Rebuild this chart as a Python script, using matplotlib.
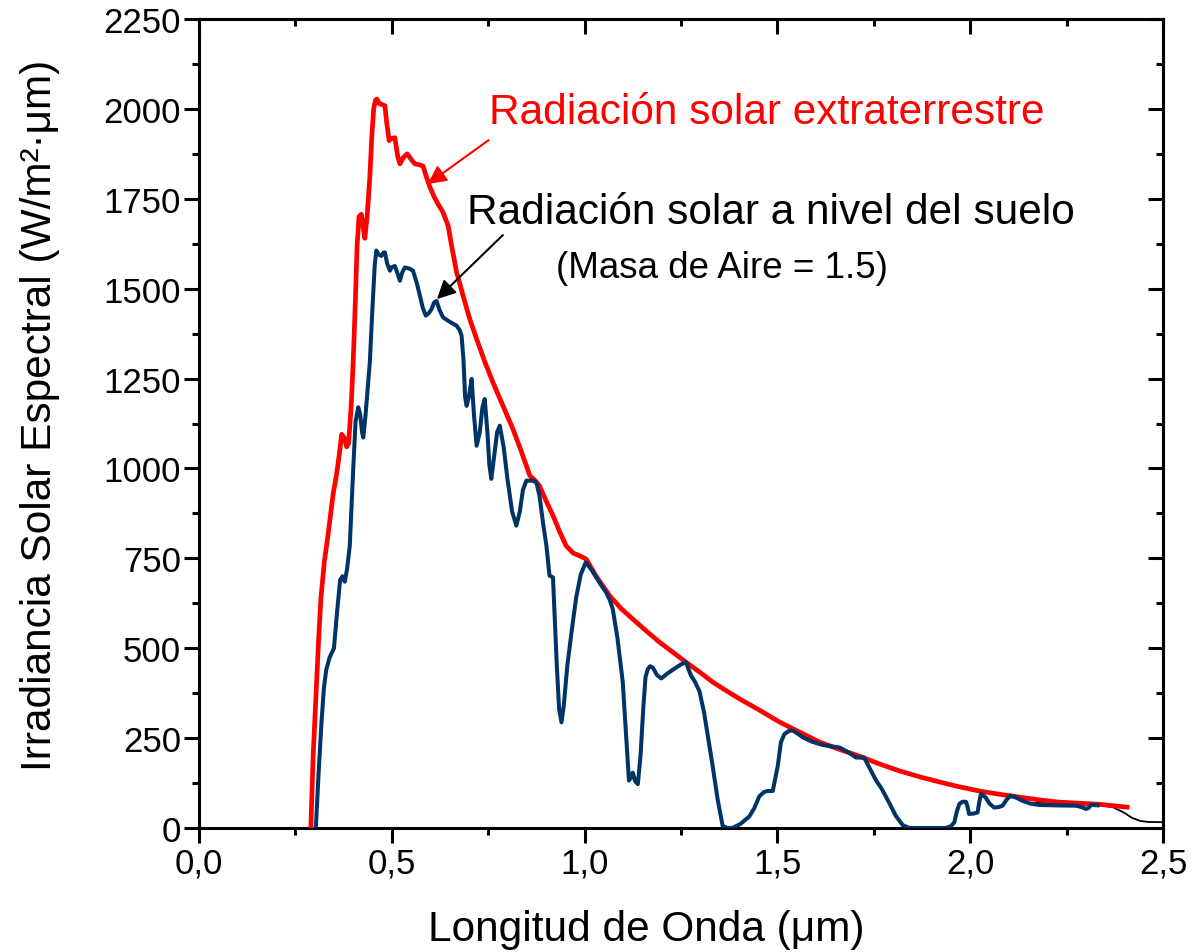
import matplotlib
matplotlib.use("Agg")
import matplotlib.pyplot as plt
from matplotlib.ticker import MultipleLocator, FixedLocator, FixedFormatter

plt.rcParams['font.family'] = ['Liberation Sans', 'DejaVu Sans']

# Extraterrestrial solar irradiance (red)
ext_x = [0.290, 0.296, 0.303, 0.310, 0.316, 0.325, 0.334, 0.348, 0.357, 0.364, 0.370, 0.377,
         0.383, 0.388, 0.395, 0.400, 0.405, 0.410, 0.415, 0.421, 0.426, 0.430, 0.436, 0.443,
         0.448, 0.453, 0.458, 0.462, 0.467, 0.473, 0.482, 0.487, 0.493, 0.500, 0.508, 0.515,
         0.521, 0.530, 0.540, 0.550, 0.560, 0.570, 0.581, 0.590, 0.598, 0.610, 0.620, 0.633,
         0.646, 0.655, 0.668, 0.685, 0.702, 0.720, 0.740, 0.762, 0.790, 0.814, 0.835, 0.858,
         0.870, 0.883, 0.900, 0.918, 0.935, 0.952, 0.970, 0.987, 1.004, 1.030, 1.065, 1.095,
         1.125, 1.160, 1.194, 1.230, 1.263, 1.298, 1.332, 1.370, 1.402, 1.450, 1.505, 1.557,
         1.609, 1.660, 1.712, 1.765, 1.816, 1.870, 1.920, 1.970, 2.023, 2.075, 2.127, 2.180,
         2.230, 2.280, 2.334, 2.370, 2.407]
ext_y = [0, 200, 360, 520, 637, 740, 810, 930, 985, 1040, 1095, 1085,
         1060, 1070, 1180, 1300, 1450, 1620, 1700, 1707, 1670, 1640, 1700, 1810,
         1920, 2000, 2025, 2027, 2015, 2013, 2009, 1960, 1912, 1918, 1920, 1870,
         1847, 1865, 1875, 1860, 1847, 1845, 1841, 1810, 1785, 1755, 1735, 1712,
         1675, 1620, 1546, 1480, 1416, 1360, 1300, 1240, 1170, 1110, 1050, 980,
         968, 952, 910, 869, 825, 785, 765, 757, 748, 700, 646, 610,
         581, 548, 517, 488, 461, 434, 406, 380, 359, 330, 295, 267,
         239, 219, 200, 178, 159, 142, 128, 115, 103, 94, 86, 78,
         72, 69, 66, 62, 58]

# Ground-level solar irradiance, AM 1.5 (dark blue)
gnd_x = [0.303, 0.310, 0.318, 0.324, 0.330, 0.339, 0.350, 0.358, 0.366, 0.372, 0.378, 0.384,
         0.391, 0.400, 0.406, 0.413, 0.418, 0.423, 0.426, 0.432, 0.443, 0.450, 0.456, 0.460,
         0.466, 0.473, 0.478, 0.482, 0.488, 0.495, 0.500, 0.508, 0.514, 0.521, 0.527, 0.534,
         0.545, 0.555, 0.565, 0.573, 0.580, 0.588, 0.596, 0.603, 0.610, 0.616, 0.624, 0.633,
         0.650, 0.668, 0.676, 0.681, 0.686, 0.690, 0.694, 0.700, 0.707, 0.713, 0.720, 0.728,
         0.735, 0.741, 0.748, 0.753, 0.758, 0.765, 0.773, 0.780, 0.790, 0.800, 0.812, 0.823,
         0.832, 0.840, 0.849, 0.866, 0.875, 0.883, 0.892, 0.901, 0.909, 0.918, 0.922, 0.928,
         0.934, 0.940, 0.946, 0.955, 0.966, 0.978, 0.990, 1.003, 1.020, 1.040, 1.056, 1.065,
         1.073, 1.085, 1.099, 1.108, 1.115, 1.120, 1.125, 1.131, 1.138, 1.145, 1.152, 1.158,
         1.164, 1.170, 1.177, 1.188, 1.199, 1.215, 1.237, 1.250, 1.263, 1.270, 1.276, 1.287,
         1.298, 1.310, 1.322, 1.332, 1.345, 1.358, 1.370, 1.384, 1.405, 1.427, 1.440, 1.453,
         1.465, 1.475, 1.488, 1.495, 1.501, 1.509, 1.518, 1.530, 1.540, 1.553, 1.566, 1.590,
         1.617, 1.640, 1.661, 1.685, 1.704, 1.725, 1.740, 1.756, 1.770, 1.790, 1.807, 1.825,
         1.842, 1.900, 1.937, 1.950, 1.959, 1.965, 1.972, 1.980, 1.989, 1.993, 1.997, 2.008,
         2.019, 2.024, 2.028, 2.040, 2.050, 2.062, 2.073, 2.084, 2.095, 2.105, 2.120, 2.135,
         2.155, 2.179, 2.220, 2.274, 2.290, 2.300, 2.307, 2.313, 2.330]
gnd_y = [0, 150, 300, 390, 440, 475, 500, 600, 690, 700, 685, 720,
         785, 1000, 1130, 1170, 1150, 1100, 1086, 1150, 1296, 1450, 1570, 1606,
         1595, 1591, 1600, 1601, 1570, 1550, 1560, 1563, 1545, 1522, 1545, 1559,
         1556, 1550, 1515, 1480, 1448, 1425, 1432, 1443, 1462, 1466, 1440, 1420,
         1408, 1397, 1385, 1369, 1300, 1200, 1174, 1200, 1249, 1150, 1063, 1100,
         1170, 1193, 1100, 1010, 971, 1030, 1100, 1119, 1060, 970, 880, 841,
         880, 940, 966, 966, 961, 924, 850, 785, 702, 697, 600, 450,
         330, 294, 340, 450, 544, 640, 705, 739, 715, 680, 655, 635,
         609, 530, 405, 250, 132, 140, 154, 130, 122, 200, 330, 420,
         442, 450, 446, 425, 416, 430, 446, 455, 461, 440, 424, 405,
         380, 320, 240, 173, 80, 6, 0, 0, 12, 32, 55, 88,
         100, 103, 103, 140, 173, 238, 261, 270, 271, 262, 252, 240,
         231, 227, 224, 210, 196, 196, 165, 132, 110, 70, 34, 8,
         0, 0, 0, 5, 16, 45, 67, 73, 73, 60, 39, 40,
         43, 75, 95, 85, 68, 57, 58, 62, 80, 90, 84, 76,
         68, 64, 63, 62, 58, 53, 56, 64, 63]

# Thin black tail
tail_x = [2.17, 2.25, 2.33, 2.37, 2.40, 2.42, 2.44, 2.46, 2.50]
tail_y = [70, 68, 64, 58, 42, 28, 20, 17, 16]

x_ticks = [0.0, 0.5, 1.0, 1.5, 2.0, 2.5]
x_labels = ["0,0", "0,5", "1,0", "1,5", "2,0", "2,5"]
y_ticks = [0, 250, 500, 750, 1000, 1250, 1500, 1750, 2000, 2250]

fig = plt.figure(figsize=(12, 9.53), dpi=100)
ax = fig.add_axes([199/1200, 1-829/953, (1163-199)/1200, (829-20)/953])

ax.plot(tail_x, tail_y, color='black', lw=1.3, zorder=2)
ax.plot(ext_x, ext_y, color='#ff0000', lw=3.4, zorder=3, solid_joinstyle='round')
ax.plot(gnd_x, gnd_y, color='#003366', lw=2.9, zorder=4, solid_joinstyle='round')

ax.set_xlim(0, 2.5)
ax.set_ylim(0, 2250)

ax.xaxis.set_major_locator(FixedLocator(x_ticks))
ax.xaxis.set_major_formatter(FixedFormatter(x_labels))
ax.xaxis.set_minor_locator(MultipleLocator(0.25))
ax.yaxis.set_major_locator(FixedLocator(y_ticks))
ax.yaxis.set_minor_locator(MultipleLocator(125))

for s in ax.spines.values():
    s.set_linewidth(2.2)

ax.tick_params(axis='both', which='major', length=11, width=2.2, labelsize=25, pad=2)
ax.tick_params(axis='both', which='minor', length=5, width=2.2)
ax.tick_params(axis='x', which='both', direction='out', bottom=True, top=False)
ax.tick_params(axis='y', which='both', direction='out', left=True, right=False)

# inward ticks on top and right
axt = ax.secondary_xaxis('top')
axt.xaxis.set_major_locator(FixedLocator(x_ticks))
axt.xaxis.set_minor_locator(MultipleLocator(0.25))
axt.tick_params(which='major', direction='in', length=11, width=2.2, labeltop=False)
axt.tick_params(which='minor', direction='in', length=5, width=2.2)
axt.spines['top'].set_linewidth(2.2)

axr = ax.secondary_yaxis('right')
axr.yaxis.set_major_locator(FixedLocator(y_ticks))
axr.yaxis.set_minor_locator(MultipleLocator(125))
axr.tick_params(which='major', direction='in', length=11, width=2.2, labelright=False)
axr.tick_params(which='minor', direction='in', length=5, width=2.2)
axr.spines['right'].set_linewidth(2.2)

ax.set_xlabel("Longitud de Onda (μm)", fontsize=30.5)
ax.set_ylabel("Irradiancia Solar Espectral (W/m²·μm)", fontsize=30.5)
ax.xaxis.label.set_va('center')
ax.yaxis.label.set_va('center')
ax.xaxis.set_label_coords((646 - 199) / 964, (829 - 930) / 809)
ax.yaxis.set_label_coords((40 - 199) / 964, (829 - 415) / 809)

ax.text(1.4715, 1991, "Radiación solar extraterrestre", color='#ff0000', fontsize=30.5,
        ha='center', va='center', zorder=6)
ax.annotate("", xy=(0.593, 1791), xytext=(0.751, 1913),
            arrowprops=dict(arrowstyle='-|>', color='#ff0000', lw=1.5,
                            mutation_scale=28, shrinkA=0, shrinkB=0))

ax.text(1.482, 1713, "Radiación solar a nivel del suelo", fontsize=30.5, ha='center',
        va='center', color='black')
ax.text(1.355, 1560, "(Masa de Aire = 1.5)", fontsize=26.5, ha='center', va='center',
        color='black')
ax.annotate("", xy=(0.617, 1471), xytext=(0.788, 1649),
            arrowprops=dict(arrowstyle='-|>', color='black', lw=1.5,
                            mutation_scale=28, shrinkA=0, shrinkB=0))

fig.savefig("out.png", dpi=100)
